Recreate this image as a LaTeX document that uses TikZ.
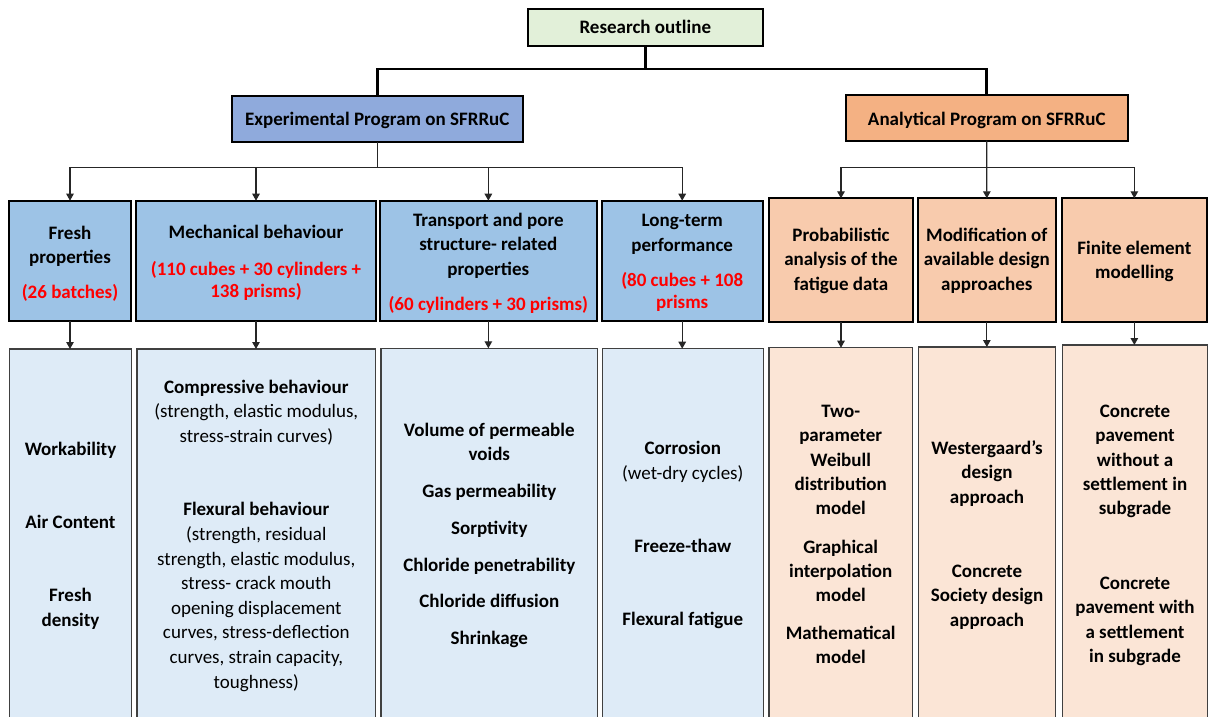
\documentclass[tikz,border=0pt]{standalone}
\usepackage{fontspec}
\setmainfont{Carlito}
\usetikzlibrary{arrows.meta}
\definecolor{resfill}{HTML}{E2F0D9}
\definecolor{expfill}{HTML}{8FAADC}
\definecolor{anafill}{HTML}{F4B183}
\definecolor{bluebox}{HTML}{9DC3E6}
\definecolor{bluelight}{HTML}{DEEBF7}
\definecolor{orangebox}{HTML}{F8CBAD}
\definecolor{orangelight}{HTML}{FBE5D6}
\definecolor{pured}{HTML}{FF0000}
\tikzset{
  every node/.style={inner sep=0pt, outer sep=0pt},
  boxbase/.style={draw, rectangle, inner sep=0pt, outer sep=0pt},
  topbox/.style={boxbase, line width=2pt, draw=black},
  midbox/.style={boxbase, line width=2.2pt, draw=black},
  lowbox/.style={boxbase, line width=1.4pt, draw=black!75},
  txt/.style={align=center, font=\fontsize{19}{24.4}\selectfont\bfseries, anchor=base},
  redtxt/.style={text=pured, font=\fontsize{19}{22.5}\selectfont\bfseries},
  conn/.style={line width=1.2pt, draw=black!85},
  arr/.style={conn, -{Triangle[width=7.5pt,length=7pt]}},
  busline/.style={line width=2.8pt, draw=black},
}
\newcommand\mybox[6]{\node[#6, minimum width={(#4)-(#2)}, minimum height={(#5)-(#3)}] (#1) at ({((#2)+(#4))/2},{((#3)+(#5))/2}) {};}
\begin{document}
\begin{tikzpicture}[x=1pt,y=-1pt]
\useasboundingbox (0,0) rectangle (1213,717);
\clip (0,0) rectangle (1213,717);
\fill[white] (0,0) rectangle (1213,717);
% top level
\mybox{res}{528}{9}{762.7}{45.7}{topbox, fill=resfill}
\node[txt] (resT) at (645.3,33.3) {Research outline};
\mybox{exp}{231.7}{96}{523}{141.7}{topbox, fill=expfill}
\node[txt] (expT) at (377.3,125) {Experimental Program on SFRRuC};
\mybox{ana}{845.5}{94.5}{1128}{140.7}{topbox, fill=anafill}
\node[txt] (anaT) at (986.75,125) {Analytical Program on SFRRuC};
% second row
\mybox{fresh}{9}{200.7}{131}{321}{midbox, fill=bluebox}
\mybox{mech}{136.3}{200.7}{375.7}{321}{midbox, fill=bluebox}
\mybox{trans}{380}{200.7}{596.7}{321}{midbox, fill=bluebox}
\mybox{long}{601.7}{200.7}{762.7}{321}{midbox, fill=bluebox}
\mybox{prob}{769}{198.3}{913}{322}{midbox, fill=orangebox}
\mybox{mod}{918}{198.3}{1055.7}{322}{midbox, fill=orangebox}
\mybox{fin}{1061.7}{198.3}{1207}{322}{midbox, fill=orangebox}
% (anchor=base is the baseline of the last line)
\node[txt] (freshT) at (70,263.5) {Fresh\\properties};
\node[txt, redtxt] (freshR) at (70,298.5) {(26 batches)};
\node[txt] (mechT) at (256,238.3) {Mechanical behaviour};
\node[txt, redtxt] (mechR) at (256,297.5) {(110 cubes + 30 cylinders +\\138 prisms)};
\node[txt] (transT) at (488.3,275.3) {Transport and pore\\structure- related\\properties};
\node[txt, redtxt] (transR) at (488.3,310) {(60 cylinders + 30 prisms)};
\node[txt] (longT) at (682.2,251) {Long-term\\performance};
\node[txt, redtxt] (longR) at (682.2,308.8) {(80 cubes + 108\\prisms};
\node[txt] (probT) at (841,290.3) {Probabilistic\\analysis of the\\fatigue data};
\node[txt] (modT) at (986.8,290.3) {Modification of\\available design\\approaches};
\node[txt] (finT) at (1134.4,278.8) {Finite element\\modelling};
% lower boxes
\mybox{freshL}{9.7}{349}{131.3}{740}{lowbox, fill=bluelight}
\mybox{mechL}{137}{349}{375.7}{740}{lowbox, fill=bluelight}
\mybox{transL}{381}{348.3}{597.7}{740}{lowbox, fill=bluelight}
\mybox{longL}{602.3}{348.7}{763.3}{740}{lowbox, fill=bluelight}
\mybox{probL}{769}{347.7}{912.5}{740}{lowbox, fill=orangelight}
\mybox{modL}{918.7}{347}{1055.7}{740}{lowbox, fill=orangelight}
\mybox{finL}{1062.5}{345}{1207.7}{740}{lowbox, fill=orangelight}
\node[txt] (fl1) at (70.5,455) {Workability};
\node[txt] (fl2) at (70.5,528.7) {Air Content};
\node[txt] (fl3) at (70.5,626.3) {Fresh\\density};
\node[txt] (ml1) at (256.3,442.1) {Compressive behaviour\\\mdseries (strength, elastic modulus,\\\mdseries stress-strain curves)};
\node[font=\fontsize{19}{24.6}\selectfont\bfseries, align=center, anchor=base] (ml2) at (256.3,688) {Flexural behaviour\\\mdseries (strength, residual\\\mdseries strength, elastic modulus,\\\mdseries stress- crack mouth\\\mdseries opening displacement\\\mdseries curves, stress-deflection\\\mdseries curves, strain capacity,\\\mdseries toughness)};
\node[txt] (tl1) at (489.3,460.8) {Volume of permeable\\voids};
\node[txt] (tl2) at (489.3,497.3) {Gas permeability};
\node[txt] (tl3) at (489.3,534) {Sorptivity};
\node[txt] (tl4) at (489.3,571.7) {Chloride penetrability};
\node[txt] (tl5) at (489.3,607.7) {Chloride diffusion};
\node[txt] (tl6) at (489.3,644) {Shrinkage};
\node[txt] (ll1) at (682.8,479) {Corrosion\\\mdseries (wet-dry cycles)};
\node[txt] (ll2) at (682.8,552.7) {Freeze-thaw};
\node[txt] (ll3) at (682.8,625.7) {Flexural fatigue};
\node[txt] (pl1) at (840.7,514.9) {Two-\\parameter\\Weibull\\distribution\\model};
\node[txt] (pl2) at (840.7,601.8) {Graphical\\interpolation\\model};
\node[txt] (pl3) at (840.7,663.4) {Mathematical\\model};
\node[txt] (dl1) at (987,503.1) {Westergaard’s\\design\\approach};
\node[txt] (dl2) at (987,626.1) {Concrete\\Society design\\approach};
\node[txt] (el1) at (1135,514.9) {Concrete\\pavement\\without a\\settlement in\\subgrade};
\node[txt] (el2) at (1135,662.5) {Concrete\\pavement with\\a settlement\\in subgrade};
% connectors
\coordinate (rbus) at (res.south |- 0,69);
\draw[busline] (res.south) -- (rbus);
\draw[busline] (exp.north) |- (rbus) -| (ana.north);
\coordinate (ebus) at (exp.south |- 0,167.3);
\draw[conn] (exp.south) -- (ebus);
\draw[arr] (ebus) -| (fresh.north);
\draw[arr] (ebus) -| (mech.north);
\draw[arr] (ebus) -| (trans.north);
\draw[arr] (ebus) -| (long.north);
\coordinate (abus) at (ana.south |- 0,167.3);
\draw[arr] (ana.south) -- (mod.north);
\draw[arr] (abus) -| (prob.north);
\draw[arr] (abus) -| (fin.north);
\draw[arr] (fresh.south) -- (fresh.south |- freshL.north);
\draw[arr] (mech.south) -- (mech.south |- mechL.north);
\draw[arr] (trans.south) -- (trans.south |- transL.north);
\draw[arr] (long.south) -- (long.south |- longL.north);
\draw[arr] (prob.south) -- (prob.south |- probL.north);
\draw[arr] (mod.south) -- (mod.south |- modL.north);
\draw[arr] (fin.south) -- (fin.south |- finL.north);
\end{tikzpicture}
\end{document}
